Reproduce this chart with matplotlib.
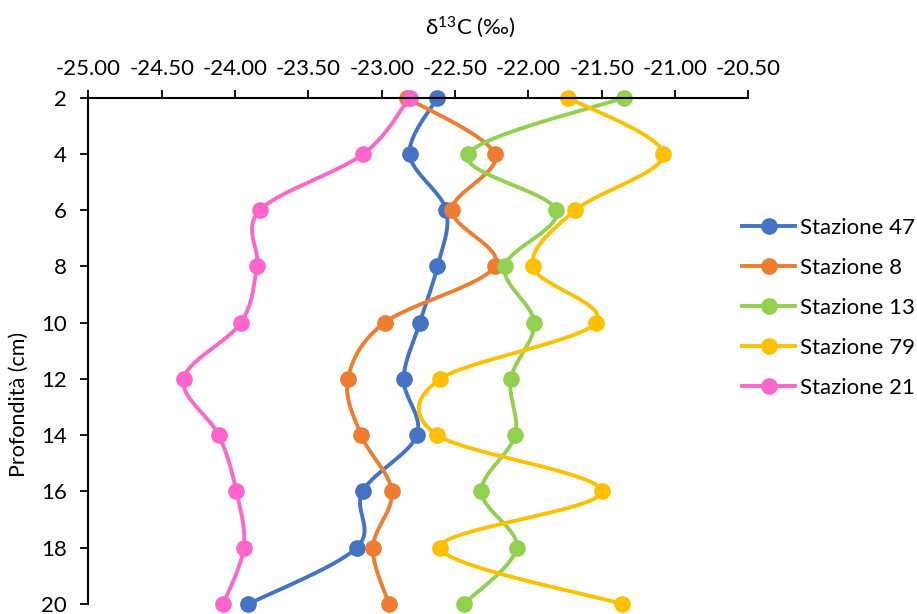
import numpy as np
import matplotlib
matplotlib.use('Agg')
import matplotlib.pyplot as plt

plt.rcParams['font.family'] = ['Lato', 'DejaVu Sans']
plt.rcParams['mathtext.default'] = 'regular'

# profondità (cm)
depth = [2, 4, 6, 8, 10, 12, 14, 16, 18, 20]

# δ13C (‰) per stazione
st47 = [-22.62, -22.81, -22.56, -22.62, -22.74, -22.85, -22.76, -23.13, -23.17, -23.91]
st8 = [-22.83, -22.23, -22.52, -22.23, -22.98, -23.23, -23.14, -22.93, -23.06, -22.95]
st13 = [-21.35, -22.41, -21.81, -22.16, -21.96, -22.12, -22.09, -22.32, -22.08, -22.44]
st79 = [-21.73, -21.08, -21.68, -21.97, -21.54, -22.60, -22.62, -21.50, -22.60, -21.36]
st21 = [-22.81, -23.125, -23.83, -23.85, -23.96, -24.35, -24.11, -23.99, -23.94, -24.08]

series = [
    ('Stazione 47', st47, '#4472C4'),
    ('Stazione 8', st8, '#ED7D31'),
    ('Stazione 13', st13, '#92D050'),
    ('Stazione 79', st79, '#FFC000'),
    ('Stazione 21', st21, '#FF66CC'),
]

FS = 16


def smooth(x, y, n=30):
    # linea smussata tipo Excel (Catmull-Rom -> Bezier)
    p = np.column_stack([x, y]).astype(float)
    p = np.vstack([p[0], p, p[-1]])
    t = np.linspace(0, 1, n)[:, None]
    out = []
    for i in range(1, len(p) - 2):
        p0, p1, p2, p3 = p[i - 1], p[i], p[i + 1], p[i + 2]
        c1 = p1 + (p2 - p0) / 6
        c2 = p2 - (p3 - p1) / 6
        seg = ((1 - t) ** 3) * p1 + 3 * ((1 - t) ** 2) * t * c1 + 3 * (1 - t) * t ** 2 * c2 + t ** 3 * p2
        out.append(seg)
    out = np.vstack(out)
    return out[:, 0], out[:, 1]


fig = plt.figure(figsize=(9.17, 6.14), dpi=100)
ax = fig.add_axes([0.0963, 0.0163, 0.7198, 0.8246])

for name, vals, col in series:
    sx, sy = smooth(vals, depth)
    ax.plot(sx, sy, color=col, lw=2.8, solid_capstyle='round')
    ax.plot(vals, depth, 'o', color=col, ms=11, mec=col)
    # solo per la legenda
    ax.plot([], [], '-o', color=col, lw=2.8, ms=11, label=name)

ax.set_xlim(-25, -20.5)
ax.set_ylim(20, 2)
ax.set_xticks(np.arange(-25, -20.49, 0.5))
ax.set_xticklabels(['%.2f' % v for v in np.arange(-25, -20.49, 0.5)])
ax.set_yticks(depth)

ax.xaxis.tick_top()
ax.xaxis.set_label_position('top')
ax.spines['right'].set_visible(False)
ax.spines['bottom'].set_visible(False)
for s in ['top', 'left']:
    ax.spines[s].set_linewidth(1.5)
ax.tick_params(axis='both', direction='out', length=5.5, width=1.3, labelsize=FS)
ax.tick_params(axis='x', pad=8)
ax.tick_params(axis='y', pad=10)

ax.set_xlabel(r'δ$^{13}$C (‰)', fontsize=FS)
ax.xaxis.set_label_coords(0.578, 1.126)
ax.set_ylabel('Profondità (cm)', fontsize=15.5)
ax.yaxis.set_label_coords(-0.09, 0.395)

ax.legend(loc='center left', bbox_to_anchor=(0.809, 0.499), bbox_transform=fig.transFigure,
          frameon=False, fontsize=FS, handlelength=2.4, labelspacing=0.9,
          handletextpad=0.22, borderpad=0, borderaxespad=0)

for line in ax.lines:
    line.set_clip_on(False)

plt.savefig('out.png', dpi=100)
